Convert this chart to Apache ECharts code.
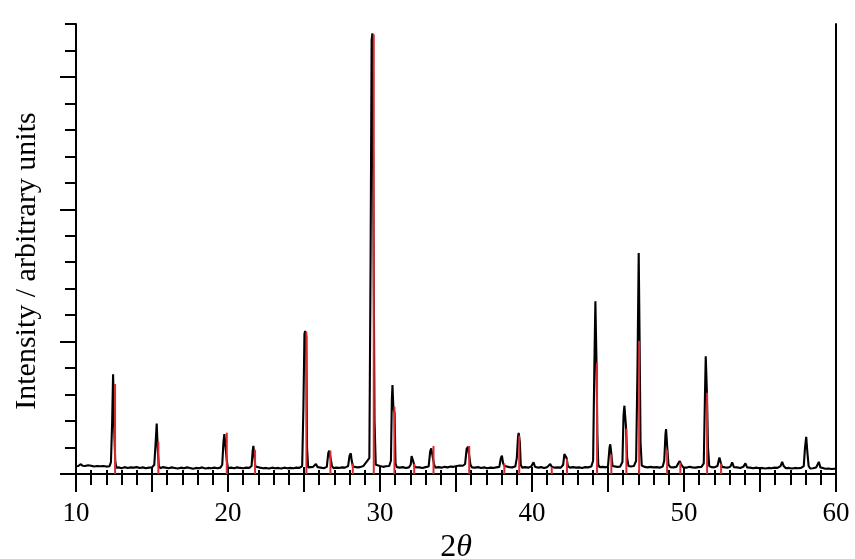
<!DOCTYPE html>
<html><head><meta charset="utf-8">
<script src="https://cdn.jsdelivr.net/npm/echarts@6/dist/echarts.min.js"></script>
<style>html,body{margin:0;padding:0;background:#fff}#c{width:855px;height:559px}</style>
</head><body><div id="c"></div>
<script>
// x-axis labelled ticks
const xTickLabels = ['10','20','30','40','50','60'];
const yTitle = 'Intensity / arbitrary units';

const expPattern = [
[10.0,0.29],[10.15,0.30],[10.3,0.37],[10.45,0.31],[10.6,0.30],[10.8,0.33],[11.0,0.31],[11.2,0.28],[11.4,0.30],[11.6,0.29],[11.8,0.30],[12.0,0.28],[12.2,0.29],
[12.3,0.45],[12.38,2.0],[12.44,3.77],[12.52,1.6],[12.58,0.5],[12.65,0.24],
[12.8,0.25],[13.0,0.22],[13.2,0.26],[13.4,0.23],[13.6,0.25],[13.8,0.24],[14.0,0.26],[14.2,0.23],[14.4,0.25],[14.6,0.22],[14.8,0.24],[15.0,0.25],[15.15,0.35],
[15.24,1.2],[15.31,1.91],[15.38,0.9],[15.45,0.3],[15.55,0.22],
[15.7,0.26],[15.9,0.24],[16.1,0.22],[16.3,0.25],[16.5,0.23],[16.7,0.21],[16.9,0.24],[17.1,0.22],[17.3,0.25],[17.5,0.23],[17.7,0.20],[17.9,0.23],[18.1,0.22],[18.3,0.25],[18.5,0.21],[18.7,0.23],[18.9,0.22],[19.1,0.24],[19.3,0.22],[19.5,0.24],[19.62,0.35],
[19.7,1.2],[19.76,1.51],[19.84,1.45],[19.92,0.5],[20.0,0.22],
[20.2,0.24],[20.4,0.22],[20.6,0.25],[20.8,0.23],[21.0,0.22],[21.2,0.24],[21.4,0.23],[21.55,0.3],
[21.62,0.85],[21.67,1.06],[21.73,0.7],[21.8,0.28],[21.9,0.22],
[22.1,0.24],[22.3,0.22],[22.5,0.23],[22.7,0.21],[22.9,0.24],[23.1,0.22],[23.3,0.23],[23.5,0.21],[23.7,0.24],[23.9,0.22],[24.1,0.23],[24.3,0.22],[24.5,0.24],[24.7,0.23],[24.88,0.3],
[24.96,2.5],[25.03,5.3],[25.08,5.40],[25.15,5.2],[25.2,1.0],[25.27,0.25],
[25.4,0.24],[25.6,0.27],[25.78,0.38],[25.9,0.26],[26.1,0.24],[26.3,0.22],[26.5,0.27],
[26.6,0.8],[26.66,0.88],[26.76,0.85],[26.84,0.3],[26.95,0.22],
[27.1,0.24],[27.3,0.23],[27.5,0.25],[27.7,0.24],[27.9,0.3],
[28.0,0.7],[28.08,0.78],[28.14,0.5],[28.22,0.28],[28.35,0.23],
[28.5,0.25],[28.7,0.26],[28.9,0.30],[29.1,0.45],[29.2,0.4],[29.3,0.6],
[29.38,8.0],[29.45,16.4],[29.5,16.65],[29.58,16.6],[29.64,2.0],[29.72,0.35],
[29.85,0.28],[30.0,0.30],[30.2,0.27],[30.4,0.29],[30.6,0.30],[30.72,0.5],
[30.78,2.8],[30.82,3.36],[30.88,2.5],[30.96,2.3],[31.02,0.4],[31.1,0.26],
[31.3,0.24],[31.5,0.26],[31.7,0.23],[31.9,0.25],[32.02,0.35],
[32.08,0.68],[32.12,0.70],[32.2,0.45],[32.28,0.26],[32.4,0.23],
[32.6,0.25],[32.8,0.23],[33.0,0.26],[33.2,0.28],
[33.3,0.85],[33.37,0.97],[33.5,1.02],[33.56,0.35],[33.65,0.24],
[33.85,0.26],[34.05,0.24],[34.25,0.27],[34.45,0.25],[34.65,0.28],[34.85,0.27],[35.05,0.30],[35.25,0.32],[35.45,0.31],[35.6,0.38],
[35.7,0.95],[35.79,1.03],[35.88,1.0],[35.95,0.35],[36.05,0.25],
[36.25,0.24],[36.45,0.26],[36.65,0.23],[36.85,0.25],[37.05,0.22],[37.25,0.24],[37.45,0.23],[37.65,0.25],[37.85,0.27],
[37.95,0.6],[38.02,0.69],[38.1,0.4],[38.2,0.3],[38.3,0.24],
[38.5,0.26],[38.7,0.25],[38.9,0.28],[39.0,0.6],
[39.08,1.4],[39.12,1.55],[39.2,1.2],[39.26,0.35],[39.35,0.24],
[39.55,0.26],[39.75,0.24],[39.95,0.28],[40.1,0.44],[40.2,0.27],[40.4,0.24],[40.6,0.26],[40.8,0.23],[41.0,0.26],[41.2,0.38],[41.3,0.27],[41.5,0.24],[41.7,0.25],[41.9,0.24],[42.05,0.35],
[42.13,0.75],[42.19,0.82],[42.28,0.6],[42.36,0.3],[42.5,0.24],
[42.7,0.26],[42.9,0.24],[43.1,0.25],[43.3,0.23],[43.5,0.26],[43.7,0.25],[43.9,0.28],[44.02,0.5],
[44.1,4.0],[44.17,6.53],[44.24,4.3],[44.3,1.5],[44.36,0.35],[44.45,0.26],
[44.65,0.27],[44.85,0.25],[45.0,0.3],
[45.1,1.0],[45.15,1.12],[45.22,0.75],[45.3,0.3],[45.4,0.26],
[45.6,0.27],[45.8,0.28],[45.95,0.45],
[46.02,2.2],[46.08,2.58],[46.18,1.8],[46.26,0.6],[46.35,0.3],
[46.5,0.28],[46.7,0.30],[46.85,0.5],
[46.94,4.0],[47.02,8.35],[47.08,5.0],[47.14,1.2],[47.22,0.32],
[47.4,0.27],[47.6,0.25],[47.8,0.27],[48.0,0.25],[48.2,0.26],[48.4,0.24],[48.6,0.28],[48.7,0.5],
[48.78,1.5],[48.82,1.70],[48.9,1.0],[48.98,0.35],[49.1,0.26],
[49.3,0.25],[49.5,0.27],[49.62,0.4],[49.72,0.49],[49.82,0.35],[49.95,0.25],
[50.15,0.24],[50.35,0.27],[50.55,0.25],[50.75,0.24],[50.95,0.26],[51.15,0.27],[51.3,0.4],
[51.38,3.0],[51.43,4.45],[51.5,3.2],[51.58,1.0],[51.66,0.3],[51.8,0.26],
[52.0,0.25],[52.2,0.3],[52.33,0.62],[52.42,0.42],[52.5,0.27],[52.7,0.25],[52.9,0.24],[53.05,0.28],[53.17,0.44],[53.28,0.26],[53.5,0.25],[53.7,0.23],[53.9,0.27],[54.04,0.40],[54.15,0.25],[54.35,0.24],[54.55,0.22],[54.75,0.24],[54.95,0.22],[55.15,0.23],[55.35,0.21],[55.55,0.23],[55.75,0.22],[55.95,0.24],[56.15,0.23],[56.35,0.3],[56.46,0.46],[56.56,0.3],[56.7,0.22],[56.9,0.23],[57.1,0.21],[57.3,0.23],[57.5,0.22],[57.7,0.23],[57.88,0.3],
[57.96,1.0],[58.04,1.40],[58.12,0.8],[58.2,0.3],[58.3,0.21],
[58.5,0.22],[58.7,0.25],[58.87,0.46],[58.97,0.25],[59.1,0.21],[59.3,0.20],[59.5,0.21],[59.7,0.19],[59.9,0.20],[60.0,0.20]
];

// calculated reflections (red sticks)
const calcPos = [12.57,15.42,19.92,21.78,25.16,26.74,28.21,29.59,30.95,32.25,33.52,35.87,38.18,39.16,41.3,42.3,44.28,45.22,46.21,47.05,48.89,49.76,51.52,52.44];
const calcInt = [3.40,1.22,1.56,0.91,5.36,0.88,0.40,16.6,2.54,0.38,1.06,1.06,0.40,1.45,0.27,0.57,4.21,0.74,1.72,5.03,0.91,0.44,3.07,0.40];

const FONT = '"Liberation Serif", "Times New Roman", serif';
const AX = {color:'#000', width:2};
const chart = echarts.init(document.getElementById('c'), null, {renderer:'canvas'});
chart.setOption({
  animation:false,
  grid:[
    {left:76, top:24, width:760, height:450, outerBoundsMode:'none', containLabel:false},
    {left:76, top:76.94, width:760, height:397.06, outerBoundsMode:'none', containLabel:false}
  ],
  xAxis:[
    {gridIndex:0, type:'value', position:'bottom', min:10, max:60, interval:5,
     axisLine:{show:true, lineStyle:AX},
     axisTick:{show:true, inside:false, length:18, lineStyle:AX},
     minorTick:{show:true, splitNumber:5, length:11, lineStyle:AX},
     splitLine:{show:false},
     axisLabel:{show:true, margin:26, fontSize:27, fontFamily:FONT, color:'#000',
       formatter: v => xTickLabels.includes(String(v)) ? String(v) : ''},
     name:'{n|2}{t|θ}', nameLocation:'middle', nameGap:58,
     nameTextStyle:{rich:{
       n:{fontFamily:FONT, fontSize:32, color:'#000'},
       t:{fontFamily:FONT, fontSize:32, fontStyle:'italic', color:'#000'}}}
    },
    {gridIndex:0, type:'value', position:'top', min:10, max:60, interval:5,
     axisLine:{show:true, lineStyle:AX},
     axisTick:{show:true, inside:false, length:7, lineStyle:AX},
     minorTick:{show:true, splitNumber:5, length:4, lineStyle:AX},
     splitLine:{show:false}, axisLabel:{show:false}
    },
    {gridIndex:1, type:'value', min:10, max:60, show:false}
  ],
  yAxis:[
    {gridIndex:0, type:'value', position:'left', min:0, max:17, interval:1,
     axisLine:{show:true, lineStyle:AX},
     axisTick:{show:true, inside:false, length:11, lineStyle:AX},
     splitLine:{show:false}, axisLabel:{show:false}
    },
    {gridIndex:0, type:'value', position:'right', min:0, max:17,
     axisLine:{show:true, lineStyle:AX},
     axisTick:{show:false}, splitLine:{show:false}, axisLabel:{show:false}
    },
    {gridIndex:1, type:'value', position:'left', min:0, max:15, interval:5,
     axisLine:{show:false},
     axisTick:{show:true, inside:false, length:16, lineStyle:AX},
     splitLine:{show:false}, axisLabel:{show:false}
    }
  ],
  graphic:[{
    type:'text', x:27, y:261, rotation:Math.PI/2,
    style:{text:yTitle, font:'30px ' + FONT, fill:'#000', align:'center', verticalAlign:'middle'}
  }],
  series:[
    {type:'line', xAxisIndex:0, yAxisIndex:0, data:expPattern, symbol:'none',
     lineStyle:{color:'#000', width:2.1}, z:2},
    {type:'custom', xAxisIndex:0, yAxisIndex:0, z:3,
     data: calcPos.map((x,i)=>[x, calcInt[i]]),
     encode:{x:0, y:1},
     renderItem:(params, api)=>{
       const p0 = api.coord([api.value(0), 0]);
       const p1 = api.coord([api.value(0), api.value(1)]);
       return {type:'line', shape:{x1:p0[0], y1:p0[1], x2:p1[0], y2:p1[1]},
               style:{stroke:'#dc2a2f', lineWidth:2}};
     }}
  ]
});
</script>
</body></html>
